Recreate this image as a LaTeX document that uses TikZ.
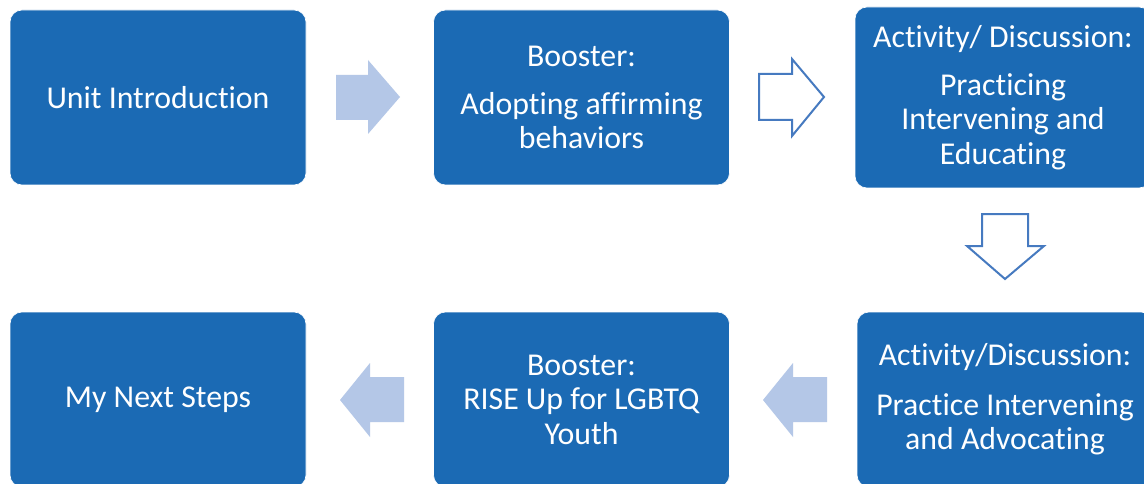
\documentclass[tikz,border=0pt]{standalone}
\usepackage{fontspec}
\setmainfont{Carlito}[Ligatures={NoCommon,NoContextual}]
\definecolor{boxblue}{RGB}{27,106,180}
\definecolor{arrowfill}{RGB}{180,199,231}
\definecolor{arrowline}{RGB}{70,122,192}
\tikzset{
  stagebox/.style={rectangle, rounded corners=12pt, fill=boxblue, draw=white, line width=0.6pt,
    text=white, align=center, minimum width=296pt, minimum height=175pt, inner sep=0pt,
    font=\fontsize{31.8}{34.5}\selectfont},
  solidarrow/.style={fill=arrowfill, draw=none},
  hollowarrow/.style={fill=white, draw=arrowline, line width=2pt, line join=miter}
}
\begin{document}
\begin{tikzpicture}[x=1pt,y=-1pt]
\useasboundingbox (0,0) rectangle (1144,484);
\clip (0,0) rectangle (1144,484);
\fill[white] (0,0) rectangle (1144,484);
% boxes
\node[stagebox] (intro) at (158,97.5) {Unit Introduction};
\node[stagebox] (boost1) at (581.5,97.5) {Booster:\\[13.5pt]Adopting affirming\\behaviors};
\node[stagebox, minimum height=181pt] (act1) at (1003,97.5) {Activity/ Discussion:\\[13.5pt]Practicing\\Intervening and\\Educating};
\node[stagebox] (next) at (158,399.5) {My Next Steps};
\node[stagebox] (boost2) at (581.5,399.5) {Booster:\\RISE Up for LGBTQ\\Youth};
\node[stagebox] (act2) at (1005,399.5) {Activity/Discussion:\\[15pt]Practice Intervening\\and Advocating};
% block arrows
\path[solidarrow] (336,75) -- (368,75) -- (368,60) -- (400,97) -- (368,134) -- (368,120) -- (336,120) -- cycle;
\path[hollowarrow] (759,74) -- (792,74) -- (792,59) -- (824,97) -- (792,136) -- (792,120) -- (759,120) -- cycle;
\path[hollowarrow] (982,214) -- (1028,214) -- (1028,246) -- (1044,246) -- (1005,279) -- (967,246) -- (982,246) -- cycle;
\path[solidarrow] (827,377) -- (793,377) -- (793,363) -- (763,400) -- (793,437) -- (793,422) -- (827,422) -- cycle;
\path[solidarrow] (404,377) -- (370,377) -- (370,363) -- (340,400) -- (370,437) -- (370,422) -- (404,422) -- cycle;
\end{tikzpicture}
\end{document}
